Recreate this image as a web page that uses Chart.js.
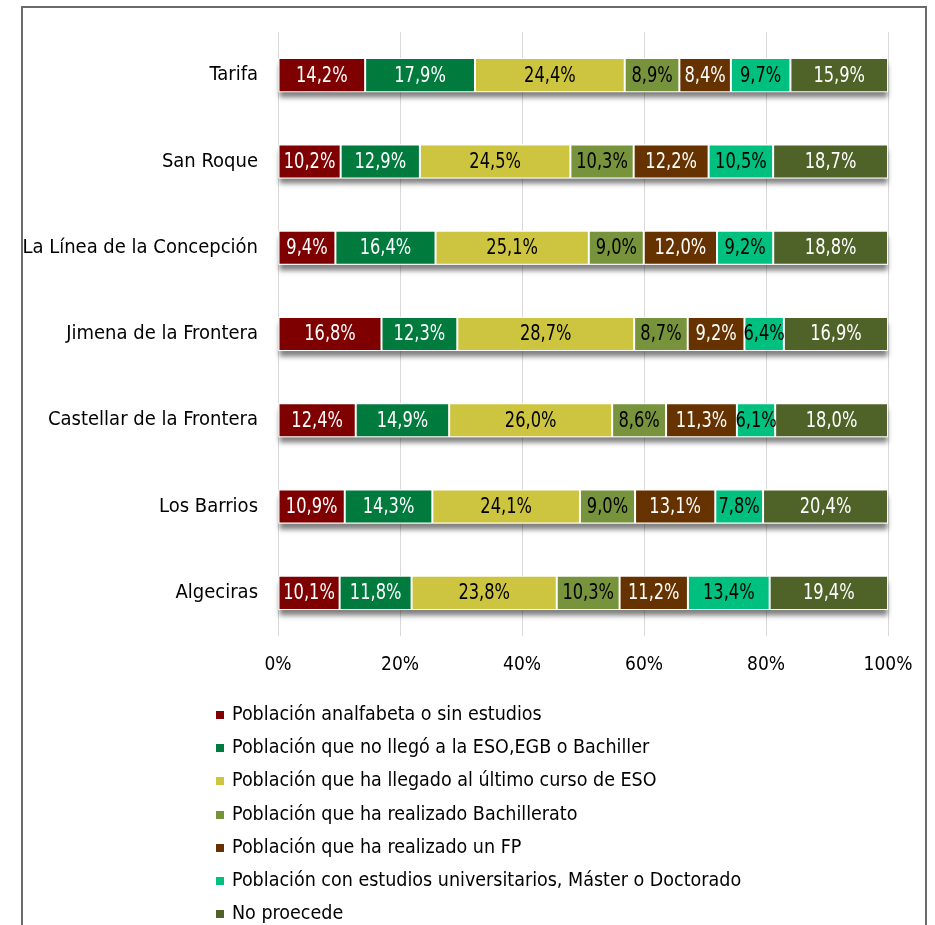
<!DOCTYPE html>
<html>
<head>
<meta charset="utf-8">
<script src="https://cdn.jsdelivr.net/npm/chart.js@4"></script>
<style>
  html, body { margin: 0; padding: 0; background: #fff; }
  body { width: 935px; height: 925px; position: relative; overflow: hidden; }
  #frame {
    position: absolute; left: 21px; top: 6px; width: 906px; height: 940px;
    border: 2px solid #6b6b6b; box-sizing: border-box;
  }
  #wrap { position: absolute; left: 0; top: 0; width: 935px; height: 700px; }
  #legend {
    position: absolute; left: 216px; top: 697px;
    font-family: "Liberation Sans Narrow", "DejaVu Sans Condensed", "Arial Narrow", sans-serif;
    font-size: 19.5px; color: #000;
  }
  .item { height: 33.2px; line-height: 33.2px; white-space: nowrap; }
  .box { display: inline-block; width: 8px; height: 8px; margin-right: 8px; vertical-align: 1px; }
</style>
</head>
<body>
<div id="frame"></div>
<div id="wrap"><canvas id="statChart"></canvas></div>
<div id="legend"></div>
<script>
// Municipios (de arriba a abajo)
const municipios = ['Tarifa', 'San Roque', 'La Línea de la Concepción', 'Jimena de la Frontera',
    'Castellar de la Frontera', 'Los Barrios', 'Algeciras'];

const series = [
    'Población analfabeta o sin estudios',
    'Población que no llegó a la ESO,EGB o Bachiller',
    'Población que ha llegado al último curso de ESO',
    'Población que ha realizado Bachillerato',
    'Población que ha realizado un FP',
    'Población con estudios universitarios, Máster o Doctorado',
    'No proecede'
];

// Porcentajes
const analfabeta   = [14.2, 10.2, 9.4, 16.8, 12.4, 10.9, 10.1];
const noLlegoESO   = [17.9, 12.9, 16.4, 12.3, 14.9, 14.3, 11.8];
const ultimoESO    = [24.4, 24.5, 25.1, 28.7, 26.0, 24.1, 23.8];
const bachillerato = [8.9, 10.3, 9.0, 8.7, 8.6, 9.0, 10.3];
const fp           = [8.4, 12.2, 12.0, 9.2, 11.3, 13.1, 11.2];
const universidad  = [9.7, 10.5, 9.2, 6.4, 6.1, 7.8, 13.4];
const noProcede    = [15.9, 18.7, 18.8, 16.9, 18.0, 20.4, 19.4];

const xTicks = [0, 20, 40, 60, 80, 100];

const colores = ['#7f0000', '#007a3d', '#cdc43f', '#77933c', '#663300', '#00c07f', '#4f6228'];
const colorTexto = ['#fff', '#fff', '#000', '#000', '#fff', '#000', '#fff'];

const valores = [analfabeta, noLlegoESO, ultimoESO, bachillerato, fp, universidad, noProcede];

// 100% apilado: cada barra se normaliza a su total
const totales = municipios.map((_, i) => valores.reduce((s, arr) => s + arr[i], 0));

const FONT = '"Liberation Sans Narrow", "DejaVu Sans Condensed", "Arial Narrow", sans-serif';

// Sombra gris bajo cada barra
const sombraPlugin = {
    id: 'sombra',
    beforeDatasetsDraw(chart) {
        const ctx = chart.ctx;
        const first = chart.getDatasetMeta(0).data;
        const last = chart.getDatasetMeta(chart.data.datasets.length - 1).data;
        ctx.save();
        ctx.fillStyle = '#fff';
        ctx.shadowColor = 'rgba(0,0,0,0.5)';
        ctx.shadowOffsetY = 6;
        ctx.shadowBlur = 5;
        first.forEach((bar, i) => {
            const p0 = bar.getProps(['base', 'y', 'height'], true);
            const p1 = last[i].getProps(['x'], true);
            ctx.fillRect(p0.base, p0.y - p0.height / 2, p1.x - p0.base, p0.height);
        });
        ctx.restore();
    }
};

// Etiquetas de valor en el centro de cada segmento (letra estrecha)
const etiquetasPlugin = {
    id: 'etiquetas',
    afterDatasetsDraw(chart) {
        const ctx = chart.ctx;
        ctx.save();
        ctx.font = '21px ' + FONT;
        ctx.textAlign = 'center';
        ctx.textBaseline = 'middle';
        chart.data.datasets.forEach((ds, d) => {
            chart.getDatasetMeta(d).data.forEach((bar, i) => {
                const p = bar.getProps(['x', 'base', 'y'], true);
                ctx.save();
                ctx.translate((p.x + p.base) / 2, p.y + 1);
                ctx.scale(0.86, 1);
                ctx.fillStyle = colorTexto[d];
                ctx.fillText(valores[d][i].toFixed(1).replace('.', ',') + '%', 0, 0);
                ctx.restore();
            });
        });
        ctx.restore();
    }
};

function initChart() {
    const ctx = document.getElementById('statChart').getContext('2d');
    new Chart(ctx, {
        type: 'bar',
        data: {
            labels: municipios,
            datasets: series.map((name, d) => ({
                label: name,
                data: valores[d].map((v, i) => v / totales[i] * 100),
                backgroundColor: colores[d],
                borderColor: '#fff',
                borderWidth: 1,
                borderSkipped: false,
                barPercentage: 0.395,
                categoryPercentage: 1
            }))
        },
        options: {
            indexAxis: 'y',
            responsive: true,
            maintainAspectRatio: false,
            animation: false,
            layout: { padding: { top: 31, right: 47, left: 0, bottom: 0 } },
            scales: {
                x: {
                    stacked: true,
                    min: 0,
                    max: 100,
                    afterBuildTicks: (scale) => { scale.ticks = xTicks.map(v => ({ value: v })); },
                    grid: { color: '#d9d9d9', lineWidth: 1, drawTicks: false },
                    border: { display: false },
                    afterFit: (scale) => { scale.height = 64; },
                    ticks: {
                        padding: 18,
                        color: '#000',
                        font: { family: FONT, size: 19 },
                        callback: (v) => v + '%'
                    }
                },
                y: {
                    stacked: true,
                    grid: { display: false, drawTicks: false },
                    border: { display: false },
                    afterFit: (scale) => { scale.width = 278; },
                    ticks: {
                        padding: 20,
                        color: '#000',
                        font: { family: FONT, size: 20 }
                    }
                }
            },
            plugins: {
                legend: { display: false },
                tooltip: { enabled: false }
            }
        },
        plugins: [sombraPlugin, etiquetasPlugin]
    });
}

function renderLegend() {
    const container = document.getElementById('legend');
    container.innerHTML = '';
    series.forEach((name, d) => {
        container.innerHTML += `<div class="item"><span class="box" style="background:${colores[d]}"></span>${name}</div>`;
    });
}

initChart();
renderLegend();
</script>
</body>
</html>
